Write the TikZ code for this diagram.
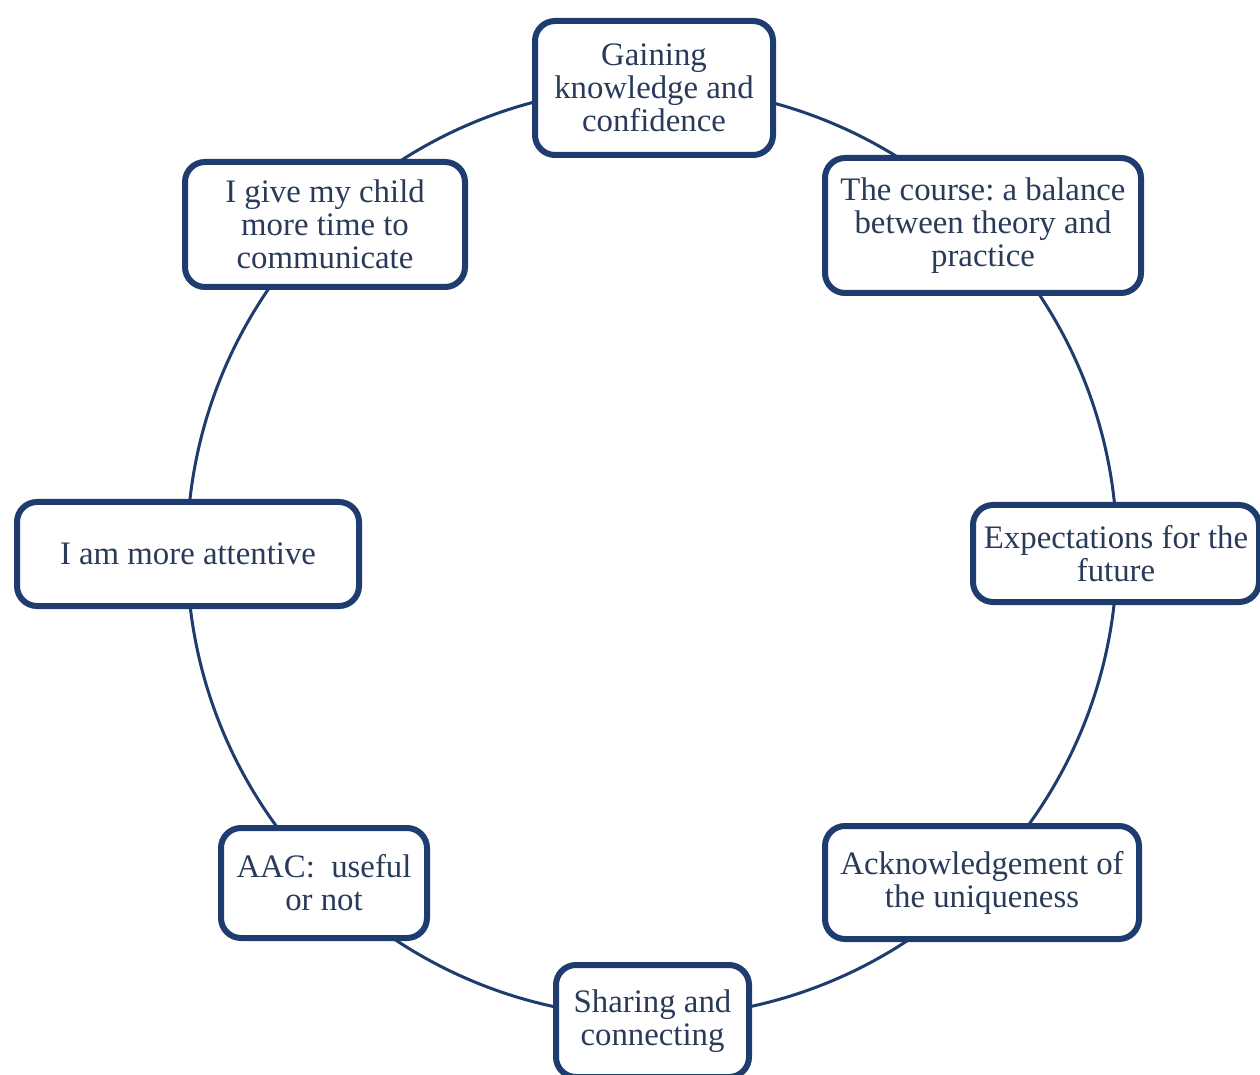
\documentclass[tikz,border=0pt]{standalone}
\usepackage{fontspec}
\setmainfont{Liberation Serif}
\frenchspacing
\definecolor{navy}{HTML}{1F3C6E}
\definecolor{txt}{HTML}{2A3B5A}
\begin{document}
\begin{tikzpicture}[x=0.5pt,y=-0.5pt,
  theme/.style={draw=navy,line width=3pt,rounded corners=10pt,fill=white,
    text=txt,align=center,inner sep=0pt,
    font=\fontsize{16.4}{16.5}\selectfont},
  ring/.style={draw=navy,line width=1.5pt}]
\useasboundingbox (0,0) rectangle (1260,1075);
\coordinate (O) at (652,552);
\draw[ring] (O) circle[radius=232.5pt];
\node[theme,minimum width=119pt,minimum height=67pt] (g) at (654,88) {Gaining\\knowledge and\\confidence};
\node[theme,minimum width=158pt,minimum height=67.5pt] (c) at (983,225.5) {The course: a balance\\between theory and\\practice};
\node[theme,minimum width=143pt,minimum height=48.5pt] (e) at (1116,553.5) {Expectations for the\\future};
\node[theme,minimum width=157pt,minimum height=56.5pt] (a) at (982,882.5) {Acknowledgement of\\the uniqueness};
\node[theme,minimum width=96.5pt,minimum height=56pt] (s) at (652.5,1021) {Sharing and\\connecting};
\node[theme,minimum width=103pt,minimum height=55pt] (u) at (324,883) {AAC:\ \ useful\\or not};
\node[theme,minimum width=171pt,minimum height=52pt] (l) at (188,554) {I am more attentive};
\node[theme,minimum width=140pt,minimum height=62.5pt] (t) at (325,224.5) {I give my child\\more time to\\communicate};
\end{tikzpicture}
\end{document}
